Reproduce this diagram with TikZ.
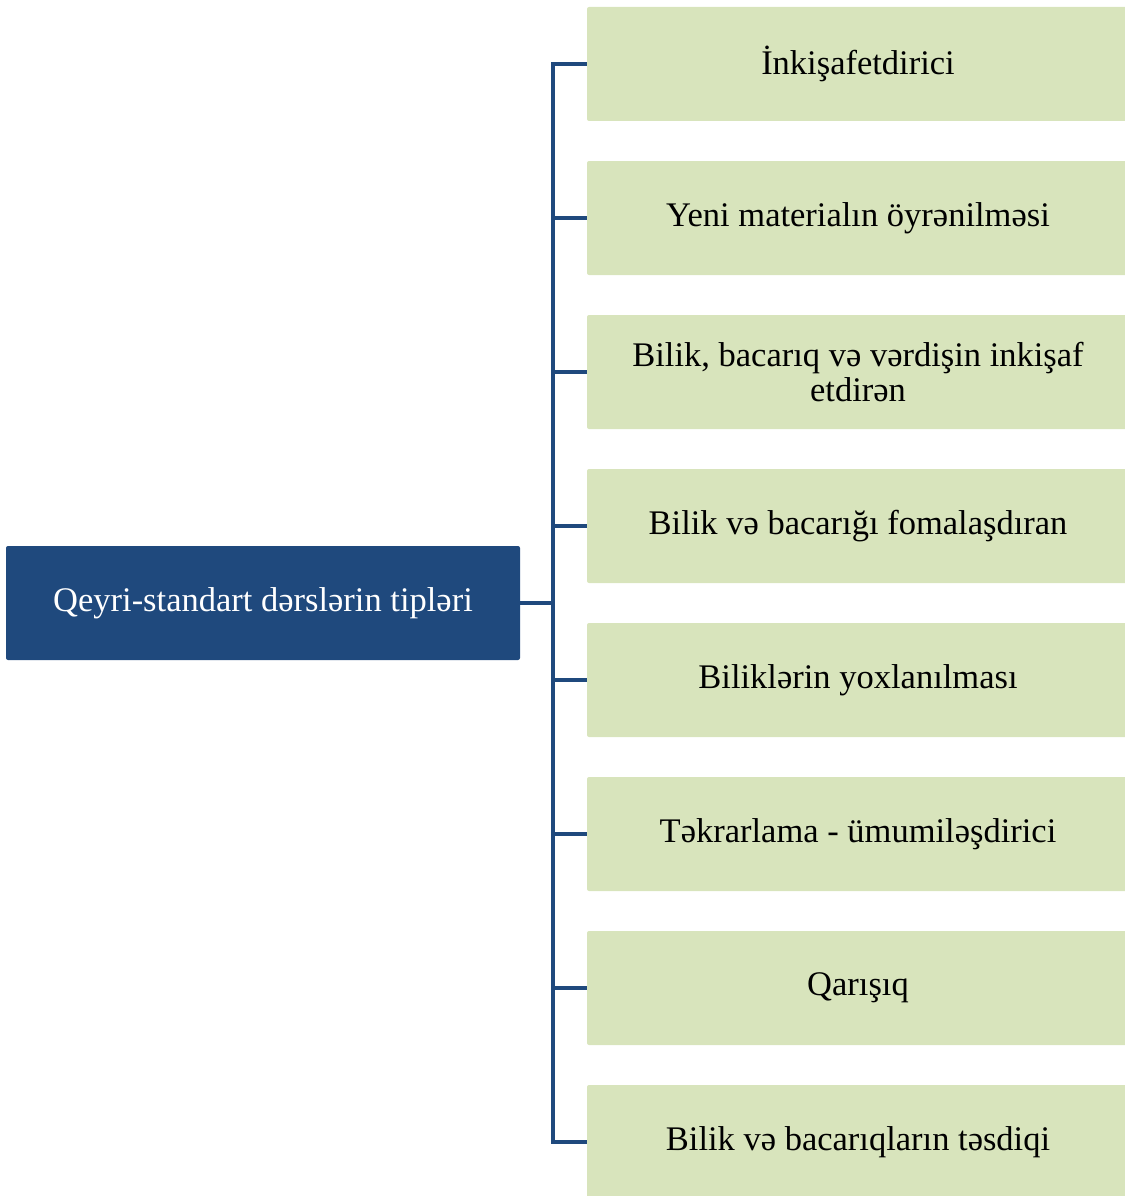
\documentclass[tikz,border=0pt]{standalone}
\usepackage{fontspec}
\setmainfont{Liberation Serif}
\definecolor{darkblue}{HTML}{1F497D}
\definecolor{palegreen}{HTML}{D8E4BC}
\tikzset{
  rootbox/.style={fill=darkblue, text=white, rounded corners=2pt, minimum width=514pt, minimum height=114pt, font=\fontsize{34.5}{35}\selectfont},
  typebox/.style={fill=palegreen, text=black, rounded corners=2pt, minimum width=542pt, minimum height=114pt, align=center, font=\fontsize{34.5}{35}\selectfont},
  branch/.style={draw=darkblue, line width=4pt}
}
\begin{document}
\begin{tikzpicture}[x=1pt,y=-1pt]
  \useasboundingbox (0,0) rectangle (1124,1196);

  \node[rootbox] (root) at (263,603) {Qeyri-standart dərslərin tipləri};

  \node[typebox] (t1) at (858,64) {İnkişafetdirici};
  \node[typebox] (t2) at (858,218) {Yeni materialın öyrənilməsi};
  \node[typebox] (t3) at (858,372) {Bilik, bacarıq və vərdişin inkişaf\\etdirən};
  \node[typebox] (t4) at (858,526) {Bilik və bacarığı fomalaşdıran};
  \node[typebox] (t5) at (858,680) {Biliklərin yoxlanılması};
  \node[typebox] (t6) at (858,834) {Təkrarlama - ümumiləşdirici};
  \node[typebox] (t7) at (858,988) {Qarışıq};
  \node[typebox] (t8) at (858,1142) {Bilik və bacarıqların təsdiqi};

  \coordinate (fork) at (553,603);
  \path [branch] (root) edge (fork);
  \foreach \i in {1,...,8}
    \draw [branch] (fork) |- (t\i);
\end{tikzpicture}
\end{document}
